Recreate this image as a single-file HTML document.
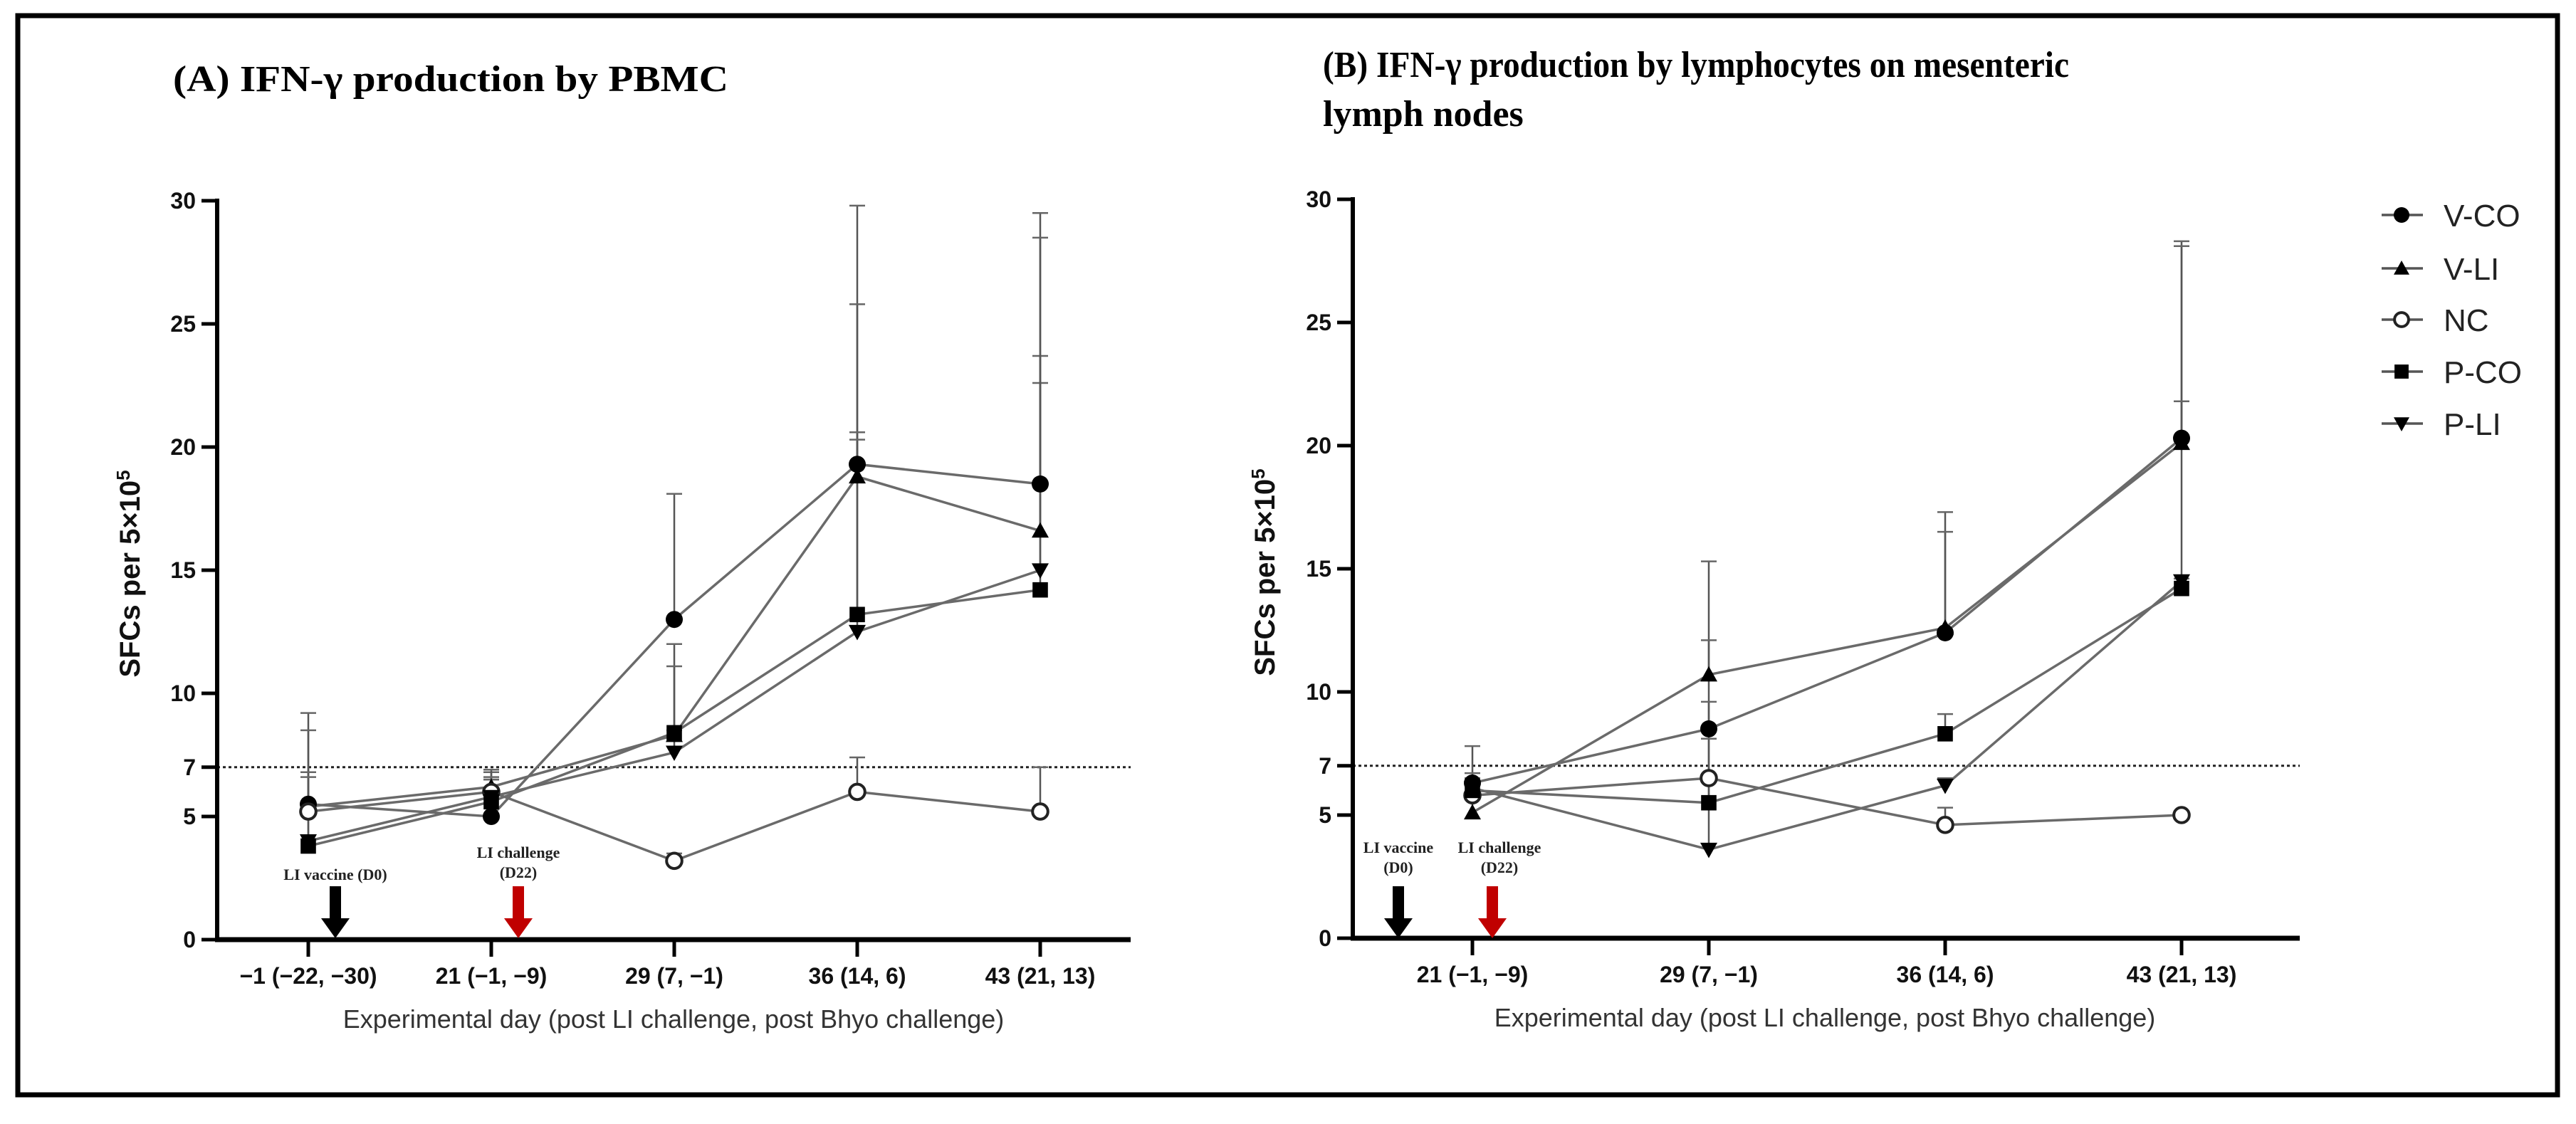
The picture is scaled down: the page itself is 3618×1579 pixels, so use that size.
<!DOCTYPE html>
<html><head><meta charset="utf-8"><style>
html,body{margin:0;padding:0;background:#fff;}
svg{display:block;}
</style></head><body>
<svg id="chart" xmlns="http://www.w3.org/2000/svg" width="3618" height="1579" viewBox="0 0 3618 1579">
<rect x="25" y="22" width="3567" height="1516" fill="#fff" stroke="#000" stroke-width="7"/>
<text x="243" y="128" font-family="Liberation Serif, serif" font-weight="bold" font-size="52" textLength="780" lengthAdjust="spacingAndGlyphs">(A) IFN-γ production by PBMC</text>
<text x="1858" y="108" font-family="Liberation Serif, serif" font-weight="bold" font-size="52" textLength="1048" lengthAdjust="spacingAndGlyphs">(B) IFN-γ production by lymphocytes on mesenteric</text>
<text x="1858" y="177" font-family="Liberation Serif, serif" font-weight="bold" font-size="52">lymph nodes</text>
<g id="pa"></g>
<g id="pb"></g>
<g id="legend"></g>
</svg>
<script>
const NS='http://www.w3.org/2000/svg';
const seriesNames=['V-CO','V-LI','NC','P-CO','P-LI'];
const seriesMarkers=['circle','triUp','open','square','triDown'];
const yTicks=[0,5,7,10,15,20,25,30];
const threshold=7;
// Panel A
const catsA=['−1 (−22, −30)','21 (−1, −9)','29 (7, −1)','36 (14, 6)','43 (21, 13)'];
const aVCO=[5.5,5.0,13.0,19.3,18.5];
const aVLI=[5.4,6.2,8.3,18.8,16.6];
const aNC=[5.2,6.0,3.2,6.0,5.2];
const aPCO=[3.8,5.6,8.4,13.2,14.2];
const aPLI=[4.0,5.8,7.6,12.5,15.0];
const aErrVCO=[9.2,6.8,18.1,29.8,29.5];
const aErrVLI=[8.5,6.9,12.0,25.8,23.7];
const aErrNC=[5.2,6.5,3.5,7.4,7.0];
const aErrPCO=[6.8,6.6,11.1,20.6,22.6];
const aErrPLI=[6.6,6.5,8.5,20.3,28.5];
// Panel B
const catsB=['21 (−1, −9)','29 (7, −1)','36 (14, 6)','43 (21, 13)'];
const bVCO=[6.3,8.5,12.4,20.3];
const bVLI=[5.1,10.7,12.6,20.1];
const bNC=[5.8,6.5,4.6,5.0];
const bPCO=[6.0,5.5,8.3,14.2];
const bPLI=[6.1,3.6,6.2,14.5];
const bErrVCO=[7.8,15.3,17.3,28.3];
const bErrVLI=[6.7,12.1,16.5,28.1];
const bErrNC=[5.8,6.5,5.3,5.0];
const bErrPCO=[6.5,9.6,9.1,21.8];
const bErrPLI=[6.3,8.1,6.5,14.6];

function mk(tag,attrs,parent){const e=document.createElementNS(NS,tag);for(const k in attrs)e.setAttribute(k,attrs[k]);parent.appendChild(e);return e;}
function marker(g,type,x,y,s){
  let e;
  if(type==='circle'){e=mk('circle',{cx:x,cy:y,r:s*0.5,fill:'#000'},g);}
  else if(type==='open'){e=mk('circle',{cx:x,cy:y,r:s*0.45,fill:'#fff',stroke:'#222','stroke-width':4},g);}
  else if(type==='square'){e=mk('rect',{x:x-s*0.45,y:y-s*0.45,width:s*0.9,height:s*0.9,fill:'#000'},g);}
  else if(type==='triUp'){e=mk('polygon',{points:`${x},${y-s*0.5} ${x-s*0.5},${y+s*0.4} ${x+s*0.5},${y+s*0.4}`,fill:'#000'},g);}
  else {e=mk('polygon',{points:`${x},${y+s*0.5} ${x-s*0.5},${y-s*0.4} ${x+s*0.5},${y-s*0.4}`,fill:'#000'},g);}
  return e;
}
function panel(gid,cfg){
  const g=document.getElementById(gid);
  const {x0,x1,y0,yTop,xs,cats,series,errs,ylabX,titleX,arrows}=cfg;
  const yS=v=>y0-(y0-yTop)*v/30;
  const xS=i=>xs[0]+i*(xs[1]-xs[0]);
  // threshold line
  const th=mk('line',{x1:x0,x2:x1,y1:yS(threshold),y2:yS(threshold),stroke:'#222','stroke-width':3,'stroke-dasharray':'4 4'},g);
  
  
  // error bars
  series.forEach((s,si)=>{
    s.forEach((v,i)=>{
      const e=errs[si][i]; if(e<=v+0.05) return;
      const eg=mk('g',{},g);
      
      
      mk('line',{x1:xS(i),x2:xS(i),y1:yS(v),y2:yS(e),stroke:'#555','stroke-width':2.5},eg);
      mk('line',{x1:xS(i)-11,x2:xS(i)+11,y1:yS(e),y2:yS(e),stroke:'#666','stroke-width':2.5},eg);
    });
  });
  // lines
  series.forEach((s,si)=>{
    const pl=mk('polyline',{points:s.map((v,i)=>xS(i)+','+yS(v)).join(' '),fill:'none',stroke:'#6a6a6a','stroke-width':3.5},g);
    
    
  });
  series.forEach((s,si)=>{
    s.forEach((v,i)=>{
      const m=marker(g,seriesMarkers[si],xS(i),yS(v),24);
      
      
    });
  });
  // axes
  const ya=mk('line',{x1:x0,x2:x0,y1:yTop-3,y2:y0+3,stroke:'#000','stroke-width':6},g);
  
  
  const xa=mk('line',{x1:x0-3,x2:x1,y1:y0,y2:y0,stroke:'#000','stroke-width':7},g);
  
  
  yTicks.forEach(t=>{
    mk('line',{x1:x0-22,x2:x0,y1:yS(t),y2:yS(t),stroke:'#000','stroke-width':5},g);
    const tx=mk('text',{x:x0-30,y:yS(t)+11,'text-anchor':'end','font-family':'Liberation Sans, sans-serif','font-weight':'bold','font-size':32,fill:'#111'},g);
    tx.textContent=t;
    
    
  });
  cats.forEach((c,i)=>{
    mk('line',{x1:xS(i),x2:xS(i),y1:y0,y2:y0+24,stroke:'#000','stroke-width':5},g);
    const tx=mk('text',{x:xS(i),y:y0+62,'text-anchor':'middle','font-family':'Liberation Sans, sans-serif','font-weight':'bold','font-size':32,fill:'#111'},g);
    tx.textContent=c;
    
    
  });
  const xt=mk('text',{x:titleX,y:y0+124,'text-anchor':'middle','font-family':'Liberation Sans, sans-serif','font-size':36,fill:'#333'},g);
  xt.textContent='Experimental day (post LI challenge, post Bhyo challenge)';
  
  
  const yt=mk('text',{x:0,y:0,transform:`translate(${ylabX},${(y0+yTop)/2+5}) rotate(-90)`,'text-anchor':'middle','font-family':'Liberation Sans, sans-serif','font-weight':'bold','font-size':40,fill:'#111'},g);
  yt.innerHTML='SFCs per 5×10<tspan dy="-14" font-size="26">5</tspan>';
  
  
  arrows.forEach(a=>{
    const ag=mk('g',{},g);
    
    
    mk('rect',{x:a.x-8,y:1245,width:16,height:48,fill:a.color},ag);
    mk('polygon',{points:`${a.x-20},1290 ${a.x+20},1290 ${a.x},1318`,fill:a.color},ag);
    a.lines.forEach((l,li)=>{
      const t=mk('text',{x:a.x+(a.dx||0),y:a.ly+li*28,'text-anchor':'middle','font-family':'Liberation Serif, serif','font-weight':'bold','font-size':22,fill:'#222'},ag);
      t.textContent=l;
    });
  });
}
panel('pa',{x0:305,x1:1588,y0:1320,yTop:282,xs:[433,690],cats:catsA,
  series:[aVCO,aVLI,aNC,aPCO,aPLI],errs:[aErrVCO,aErrVLI,aErrNC,aErrPCO,aErrPLI],
  ylabX:196,titleX:946,
  arrows:[{name:'li-vaccine-arrow',x:471,color:'#000',ly:1236,lines:['LI vaccine (D0)']},
          {name:'li-challenge-arrow',x:728,color:'#c00000',ly:1205,lines:['LI challenge','(D22)']}]});
panel('pb',{x0:1900,x1:3230,y0:1318,yTop:280,xs:[2068,2400],cats:catsB,
  series:[bVCO,bVLI,bNC,bPCO,bPLI],errs:[bErrVCO,bErrVLI,bErrNC,bErrPCO,bErrPLI],
  ylabX:1790,titleX:2563,
  arrows:[{name:'li-vaccine-arrow',x:1964,color:'#000',ly:1198,lines:['LI vaccine','(D0)']},
          {name:'li-challenge-arrow',x:2096,color:'#c00000',dx:10,ly:1198,lines:['LI challenge','(D22)']}]});
// legend
const lg=document.getElementById('legend');
const legendY=[302,377,449,522,595];
seriesNames.forEach((n,i)=>{
  const e=mk('g',{},lg);
  
  
  mk('line',{x1:3345,x2:3403,y1:legendY[i],y2:legendY[i],stroke:'#555','stroke-width':3.5},e);
  marker(e,seriesMarkers[i],3373,legendY[i],22);
  const t=mk('text',{x:3432,y:legendY[i]+16,'font-family':'Liberation Sans, sans-serif','font-size':44,fill:'#222'},e);
  t.textContent=n;
});
</script>
</body></html>
